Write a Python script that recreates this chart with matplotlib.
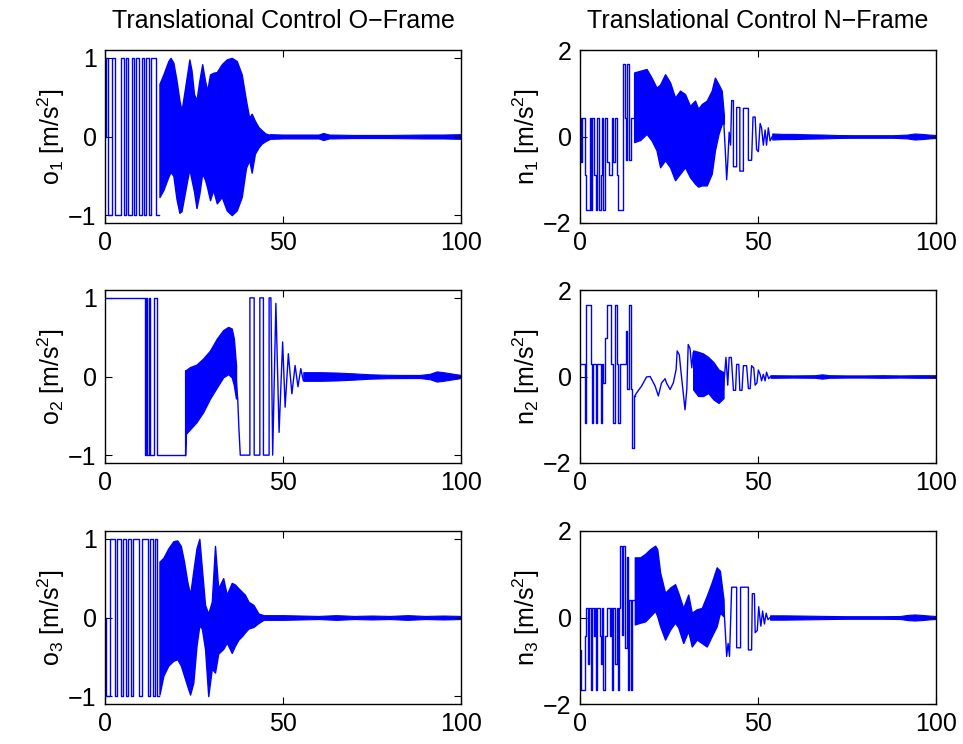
import matplotlib
matplotlib.use('Agg')
import matplotlib.pyplot as plt
import numpy as np

plt.rcParams['font.family'] = ['Liberation Sans', 'DejaVu Sans']
plt.rcParams['mathtext.fontset'] = 'custom'
plt.rcParams['mathtext.rm'] = 'Liberation Sans'
plt.rcParams['mathtext.it'] = 'Liberation Sans'

# ---- O-frame, axis 1 ----
o1_step_t = [0, 0.2, 0.9, 1.9, 2.8, 4.5, 5.2, 5.9, 6.4, 7.6, 8.2, 8.6, 9.6, 10.3, 11.0, 11.5, 12.4, 12.8, 14.3, 15.3]
o1_step_y = [0, 1, -1, 1, -1, 1, -1, 1, -1, 1, -1, 1, -1, 1, -1, 1, -1, 1, -1, -1]
o1_band_t = [15.3, 16.4, 17.8, 18.4, 19.2, 20.1, 20.9, 21.5, 22.5, 23.7, 24.3, 25.0, 25.7, 26.5, 27.3, 28.1,
             28.7, 29.5, 30.4, 31.4, 32.8, 34.2, 35.6, 37.0, 38.4, 39.6, 40.5, 41.2, 42.1, 43.1, 44.0, 45.0, 46.3]
o1_band_hi = [0.67, 0.79, 0.96, 1.0, 0.94, 0.71, 0.46, 0.33, 0.62, 0.98, 0.84, 0.54, 0.46, 0.71, 0.92, 0.71,
              0.58, 0.79, 0.81, 0.82, 0.92, 0.98, 1.0, 0.96, 0.79, 0.46, 0.24, 0.29, 0.2, 0.12, 0.08, 0.04, 0.02]
o1_band_lo = [-0.77, -0.68, -0.51, -0.45, -0.5, -0.8, -0.97, -0.95, -0.7, -0.41, -0.55, -0.7, -0.91, -0.73, -0.47, -0.55,
              -0.65, -0.81, -0.68, -0.85, -0.77, -0.94, -1.0, -0.94, -0.77, -0.4, -0.3, -0.46, -0.22, -0.14, -0.09, -0.06, -0.03]
o1_wave_t = []
o1_wave_y = []
o1_tail_t = [46.3, 50, 55, 60, 61.3, 63, 70, 80, 90, 95, 100]
o1_tail_amp = [0.03, 0.025, 0.025, 0.025, 0.045, 0.025, 0.02, 0.02, 0.025, 0.025, 0.03]

# ---- O-frame, axis 2 ----
o2_step_t = [0, 11.2, 11.5, 11.9, 12.4, 12.7, 13.9, 14.6, 22.5]
o2_step_y = [1, -1, 1, -1, 1, -1, 1, -1, -1]
o2_band_t = [22.5, 22.7, 23.9, 25.7, 27.6, 29.5, 31.4, 33.2, 34.6, 35.6, 36.2, 36.8]
o2_band_hi = [0.08, 0.08, 0.12, 0.15, 0.23, 0.33, 0.48, 0.59, 0.63, 0.61, 0.48, 0.14]
o2_band_lo = [-1.0, -0.73, -0.67, -0.58, -0.45, -0.28, -0.14, -0.01, 0.03, -0.01, -0.11, -0.28]
o2_wave_t = [36.8, 37.3, 37.6, 38.0, 40.7, 40.7, 41.9, 41.9, 43.5, 43.5, 44.5, 44.5, 46.1, 46.1, 46.6, 47.1,
             48.0, 48.9, 49.9, 50.6, 51.5, 52.5, 53.4, 54.2, 55.0, 55.7]
o2_wave_y = [0.0, -0.3, -0.65, -1.0, -1.0, 1.0, 1.0, -1.0, -1.0, 1.0, 1.0, -1.0, -1.0, 1.0, 1.0, -1.0,
             0.93, -0.71, 0.44, -0.39, 0.29, -0.22, 0.14, -0.13, 0.1, -0.05]
o2_tail_t = [55.7, 60.4, 65.1, 69.8, 74.4, 79.1, 83.8, 88.5, 91.3, 93.2, 95.0, 97.8, 100]
o2_tail_amp = [0.055, 0.055, 0.05, 0.04, 0.028, 0.022, 0.02, 0.02, 0.035, 0.065, 0.055, 0.035, 0.02]

# ---- O-frame, axis 3 ----
o3_step_t = [0, 0.2, 1.4, 2.8, 3.3, 4.6, 5.0, 5.8, 6.4, 7.2, 8.0, 9.6, 10.5, 12.0, 12.5, 13.4, 14.0, 14.6, 15.3]
o3_step_y = [0, -1, 1, -1, 1, -1, 1, -1, 1, -1, 1, -1, 1, -1, 1, -1, 1, -1, -1]
o3_band_t = [15.3, 16.4, 17.8, 19.2, 20.3, 21.3, 22.2, 23.1, 23.9, 24.8, 25.7, 26.5, 27.2, 28.1, 29.0, 30.0,
             30.9, 31.8, 33.2, 34.2, 35.6, 36.5, 37.5, 38.4, 39.3, 40.3, 41.7, 43.1, 44.5]
o3_band_hi = [0.71, 0.76, 0.88, 0.97, 0.98, 0.91, 0.71, 0.46, 0.29, 0.59, 0.88, 1.0, 0.63, 0.16, 0.05, 0.2,
              0.91, 0.37, 0.5, 0.29, 0.44, 0.42, 0.37, 0.33, 0.29, 0.2, 0.16, 0.05, 0.03]
o3_band_lo = [-0.98, -0.74, -0.61, -0.55, -0.53, -0.61, -0.74, -0.87, -0.98, -0.83, -0.36, -0.1, -0.14, -0.4, -1.0, -0.65,
              -0.7, -0.46, -0.4, -0.32, -0.45, -0.36, -0.28, -0.24, -0.19, -0.14, -0.12, -0.07, -0.03]
o3_wave_t = []
o3_wave_y = []
o3_tail_t = [44.5, 50, 55, 60, 65, 70, 75, 80, 85, 90, 95, 100]
o3_tail_amp = [0.03, 0.03, 0.025, 0.02, 0.03, 0.02, 0.025, 0.02, 0.03, 0.02, 0.025, 0.02]

# ---- N-frame, axis 1 ----
n1_step_t = [0, 0.3, 0.6, 1.4, 1.7, 2.7, 3.1, 3.5, 4.0, 4.5, 4.9, 5.4, 5.8, 6.1, 6.6, 7.1, 7.7, 8.2, 8.9, 9.4,
             9.9, 10.3, 10.8, 12.2, 12.5, 12.8, 13.3, 13.8, 14.2, 15.2]
n1_step_y = [0.43, -0.6, 0.43, -0.9, -1.7, 0.43, -1.7, 0.43, -0.9, -1.7, 0.43, -1.7, -0.9, 0.43, -1.7, 0.43,
             -0.6, -0.9, 0.43, -0.6, 0.43, -0.9, -1.7, 1.67, 0.43, -0.55, 1.67, -0.55, 0.43, 0.43]
n1_band_t = [15.2, 16.9, 18.7, 20.1, 21.5, 22.5, 23.9, 25.3, 26.7, 28.1, 29.5, 30.9, 32.3, 33.2, 34.2, 35.6,
             37.0, 37.9, 38.9, 39.8, 40.4]
n1_band_hi = [1.48, 1.52, 1.56, 1.36, 1.13, 1.2, 1.44, 1.25, 0.9, 1.06, 0.98, 0.71, 0.83, 0.64, 0.75, 0.83,
              1.06, 1.36, 1.21, 1.06, 0.5]
n1_band_lo = [-0.13, -0.08, 0.06, -0.09, -0.32, -0.71, -0.55, -0.71, -1.01, -0.86, -0.71, -0.94, -1.09, -1.16, -1.13, -1.13,
              -0.86, -0.32, 0.06, 0.29, 0.3]
n1_wave_t = [40.4, 40.8, 41.2, 41.5, 41.9, 42.3, 42.6, 43.1, 43.1, 44.0, 44.0, 44.9, 44.9, 45.9, 45.9, 47.3,
             47.3, 48.2, 48.6, 49.2, 49.6, 50.1, 50.6, 51.0, 51.5, 52.0, 52.4, 52.9, 53.4, 54.0]
n1_wave_y = [0.3, -0.3, -1.0, -0.6, 0.1, -0.2, 0.83, 0.83, -0.7, -0.7, 0.67, 0.67, -0.8, -0.8, 0.65, 0.65,
             -0.55, -0.55, 0.45, 0.45, -0.3, -0.35, 0.3, 0.2, -0.2, 0.15, -0.2, 0.2, -0.1, 0.0]
n1_tail_t = [54, 57, 60, 64, 68, 72, 76, 80, 84, 88, 92, 94, 96, 98, 100]
n1_tail_amp = [0.07, 0.06, 0.06, 0.05, 0.045, 0.035, 0.03, 0.03, 0.03, 0.03, 0.045, 0.07, 0.06, 0.045, 0.035]

# ---- N-frame, axis 2 ----
n2_step_t = [0, 1.4, 1.7, 3.0, 3.3, 3.6, 4.5, 4.9, 5.8, 6.1, 6.6, 7.0, 7.5, 8.6, 9.2, 9.8, 10.3, 10.8, 11.2,
             12.9, 13.3, 13.9, 14.3, 14.5, 15.2, 15.4]
n2_step_y = [0.28, -1.08, 1.65, 0.28, -1.08, 0.28, -1.08, 0.28, -1.08, 0.28, -0.15, 0.9, 1.65, 0.28, -1.08,
             1.65, 0.28, -1.08, 0.28, 1.05, -0.3, 1.65, -0.3, -1.66, -0.45, -0.45]
n2_band_t = [31.8, 33.2, 34.6, 36.0, 37.5, 38.9, 40.3]
n2_band_hi = [0.6, 0.57, 0.53, 0.45, 0.33, 0.16, 0.1]
n2_band_lo = [-0.3, -0.45, -0.45, -0.38, -0.53, -0.61, -0.5]
n2_wave_t = [15.4, 15.9, 17.3, 18.7, 19.7, 21.1, 22.0, 22.9, 23.9, 24.3, 25.3, 26.2, 27.0, 27.3, 27.9, 28.3,
             29.0, 29.5, 30.0, 30.4, 30.9, 31.4, 31.8, None,
             40.3, 41.0, 41.5, 41.9, 42.5, 43.1, 43.7, 44.0, 44.6, 44.9, 45.5, 45.9, 46.8, 47.3, 47.8, 48.2,
             48.8, 49.2, 49.7, 50.1, 50.6, 51.0, 51.5, 52.0, 52.4, 53.0, 53.5]
n2_wave_y = [-0.45, -0.38, -0.22, -0.01, 0.0, -0.22, -0.45, -0.15, -0.05, -0.15, -0.3, -0.15, 0.16, 0.59, 0.5, 0.16,
             -0.38, -0.77, -0.3, 0.74, 0.65, 0.2, 0.55, None,
             -0.3, 0.44, -0.2, 0.44, 0.44, -0.32, -0.32, 0.28, 0.28, -0.32, -0.32, 0.25, 0.25, -0.28, -0.28, 0.25,
             0.2, -0.2, -0.15, 0.15, 0.05, -0.1, 0.05, -0.1, 0.1, -0.05, 0.0]
n2_tail_t = [53.5, 60, 66, 68, 70, 75, 80, 85, 90, 95, 100]
n2_tail_amp = [0.03, 0.025, 0.03, 0.05, 0.03, 0.025, 0.025, 0.03, 0.025, 0.03, 0.03]

# ---- N-frame, axis 3 ----
n3_step_t = [0, 0.3, 1.4, 1.6, 2.3, 2.5, 3.0, 3.3, 3.9, 4.2, 4.5, 4.8, 5.6, 6.0, 6.3, 6.6, 7.0, 7.5, 8.4, 8.7,
             8.9, 9.2, 9.8, 10.3, 10.6, 10.9, 11.2, 11.8, 12.2, 12.6, 13.1, 13.4, 13.8, 14.2, 14.6, 15.4]
n3_step_y = [-0.74, -1.67, -0.43, 0.21, -1.08, 0.21, -1.67, 0.21, -0.43, 0.21, -1.67, 0.21, -0.43, -1.08, 0.21,
             -1.67, -0.43, 0.21, -0.43, 0.21, -1.67, 0.21, -1.08, 0.21, -1.67, 0.21, 1.66, -0.4, 1.66, -0.7,
             1.4, -1.67, 0.4, -1.67, 0.4, 0.4]
n3_band_t = [15.4, 16.9, 18.3, 19.7, 21.1, 21.7, 22.5, 23.9, 25.3, 26.7, 27.6, 29.0, 30.4, 31.4, 32.8, 34.2,
             35.6, 37.0, 38.4, 39.3, 40.3]
n3_band_hi = [1.39, 1.39, 1.47, 1.58, 1.66, 1.58, 1.04, 0.57, 0.69, 0.77, 0.57, 0.22, 0.53, 0.11, 0.19, 0.22,
              0.5, 0.81, 1.16, 1.08, 0.42]
n3_band_lo = [-0.16, -0.12, -0.09, 0.03, 0.15, 0.03, -0.2, -0.51, -0.28, -0.12, -0.23, -0.59, -0.31, -0.67, -0.51, -0.59,
              -0.67, -0.43, -0.2, 0.11, 0.03]
n3_wave_t = [40.3, 40.8, 41.2, 41.6, 42.0, 42.6, 44.0, 44.0, 45.1, 45.1, 47.3, 47.3, 48.2, 48.4, 49.0, 49.2,
             49.8, 50.2, 50.8, 51.3, 51.8, 52.3, 52.8, 53.4]
n3_wave_y = [0.42, -0.3, -0.9, -0.6, -0.9, 0.7, 0.7, -0.7, -0.7, 0.7, 0.7, -0.75, -0.75, 0.55, 0.55, -0.35,
             -0.3, 0.25, -0.2, 0.15, -0.15, 0.1, -0.05, 0.0]
n3_tail_t = [53.4, 57, 62, 66, 70, 75, 80, 85, 90, 92, 94, 96, 98, 100]
n3_tail_amp = [0.05, 0.05, 0.045, 0.04, 0.035, 0.03, 0.03, 0.03, 0.035, 0.06, 0.07, 0.06, 0.045, 0.035]

BLUE = (0, 0, 1)
FS = 18


def draw(ax, step_t, step_y, band_t, band_lo, band_hi, wave_t, wave_y, tail_t, tail_amp):
    ax.plot(step_t, step_y, color=BLUE, lw=1.0, drawstyle='steps-post')
    ax.fill_between(band_t, band_lo, band_hi, facecolor=BLUE, edgecolor=BLUE, lw=1.0)
    if wave_t:
        wt = np.array(wave_t, dtype=float)
        wy = np.array(wave_y, dtype=float)
        ax.plot(wt, wy, color=BLUE, lw=1.0)
    tail_amp = np.array(tail_amp)
    ax.fill_between(tail_t, -tail_amp, tail_amp, facecolor=BLUE, edgecolor=BLUE, lw=0.8)


fig = plt.figure(figsize=(9.63, 7.44), dpi=100)
lefts = [105 / 963, 580 / 963]
bottoms = [1 - 223 / 744, 1 - 463 / 744, 1 - 704 / 744]
width = 356 / 963
height = 173 / 744

panels = [
    (0, 0, o1_step_t, o1_step_y, o1_band_t, o1_band_lo, o1_band_hi, o1_wave_t, o1_wave_y, o1_tail_t, o1_tail_amp, 'o'),
    (0, 1, o2_step_t, o2_step_y, o2_band_t, o2_band_lo, o2_band_hi, o2_wave_t, o2_wave_y, o2_tail_t, o2_tail_amp, 'o'),
    (0, 2, o3_step_t, o3_step_y, o3_band_t, o3_band_lo, o3_band_hi, o3_wave_t, o3_wave_y, o3_tail_t, o3_tail_amp, 'o'),
    (1, 0, n1_step_t, n1_step_y, n1_band_t, n1_band_lo, n1_band_hi, n1_wave_t, n1_wave_y, n1_tail_t, n1_tail_amp, 'n'),
    (1, 1, n2_step_t, n2_step_y, n2_band_t, n2_band_lo, n2_band_hi, n2_wave_t, n2_wave_y, n2_tail_t, n2_tail_amp, 'n'),
    (1, 2, n3_step_t, n3_step_y, n3_band_t, n3_band_lo, n3_band_hi, n3_wave_t, n3_wave_y, n3_tail_t, n3_tail_amp, 'n'),
]

for col, row, st, sy, bt, blo, bhi, wt, wy, tt, ta, name in panels:
    ax = fig.add_axes([lefts[col], bottoms[row], width, height])
    draw(ax, st, sy, bt, blo, bhi, wt, wy, tt, ta)
    ax.set_xlim(0, 100)
    ax.set_xticks([0, 50, 100])
    if name == 'o':
        ax.set_ylim(-1.1, 1.1)
        ax.set_yticks([-1, 0, 1])
    else:
        ax.set_ylim(-2, 2)
        ax.set_yticks([-2, 0, 2])
    ax.tick_params(direction='in', length=5, width=0.8, top=True, right=True, labelsize=FS, pad=6)
    for s in ax.spines.values():
        s.set_linewidth(1.0)
    ax.set_ylabel(name + r'$_\mathregular{' + str(row + 1) + r'}$ [m/s$^\mathregular{2}$]', fontsize=FS, labelpad=1)
    if row == 0:
        ax.set_title('Translational Control ' + ('O' if name == 'o' else 'N') + '\u2212Frame', fontsize=FS, pad=16)

fig.savefig('out.png', dpi=100)
